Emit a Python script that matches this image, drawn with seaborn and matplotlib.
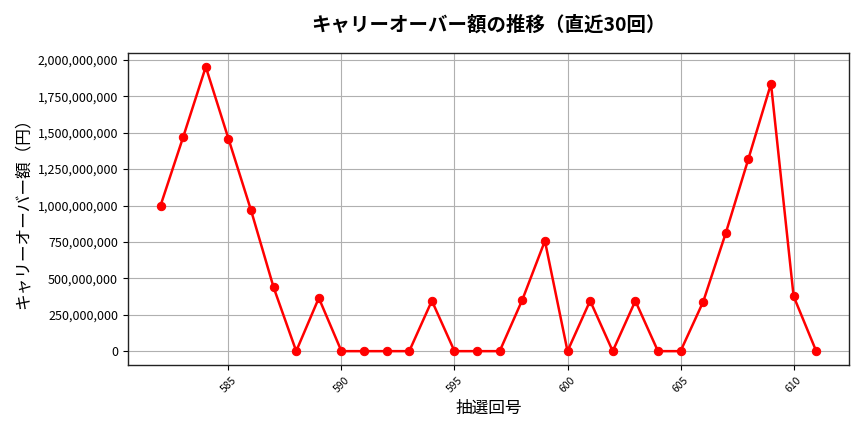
import matplotlib
matplotlib.use("Agg")
import matplotlib.pyplot as plt
import matplotlib.ticker as mticker
import seaborn as sns
import pandas as pd

draws = list(range(582, 612))
carryover = [
    1000000000, 1470000000, 1952000000, 1460000000, 968000000, 438000000,
    0, 365000000, 0, 0, 0, 0, 346000000, 0, 0, 0,
    352000000, 757000000, 0, 346000000, 0, 345000000, 0, 0,
    339000000, 811000000, 1320000000, 1836000000, 377000000, 0,
]

sns.set_style("white")
plt.rcParams['font.family'] = ['Noto Sans CJK JP', 'DejaVu Sans']
plt.rcParams.update({
    "text.color": "black",
    "axes.labelcolor": "black",
    "xtick.color": "black",
    "ytick.color": "black",
})

df = pd.DataFrame({"draw": draws, "carryover": carryover})

fig, ax = plt.subplots(figsize=(8.64, 4.32), dpi=100)
sns.lineplot(data=df, x="draw", y="carryover", ax=ax, color="red",
             marker="o", markersize=6, markeredgecolor="red", linewidth=1.8)

ax.set_title("キャリーオーバー額の推移（直近30回）", fontsize=14, fontweight="bold", pad=16)
ax.set_xlabel("抽選回号", fontsize=12)
ax.set_ylabel("キャリーオーバー額（円）", fontsize=12)
ax.yaxis.set_major_formatter(mticker.FuncFormatter(lambda v, p: f"{int(v):,}"))
ax.yaxis.set_major_locator(mticker.MultipleLocator(250000000))
ax.tick_params(axis="x", labelrotation=45, labelsize=7.5, length=3.5)
ax.tick_params(axis="y", labelsize=9, length=3.5)
ax.tick_params(axis="both", which="major", bottom=True, left=True)
ax.grid(True, color="#b0b0b0", linewidth=0.8)
for s in ax.spines.values():
    s.set_color("#222222")
    s.set_linewidth(1.0)

fig.tight_layout()
fig.savefig("out.png", dpi=100)
